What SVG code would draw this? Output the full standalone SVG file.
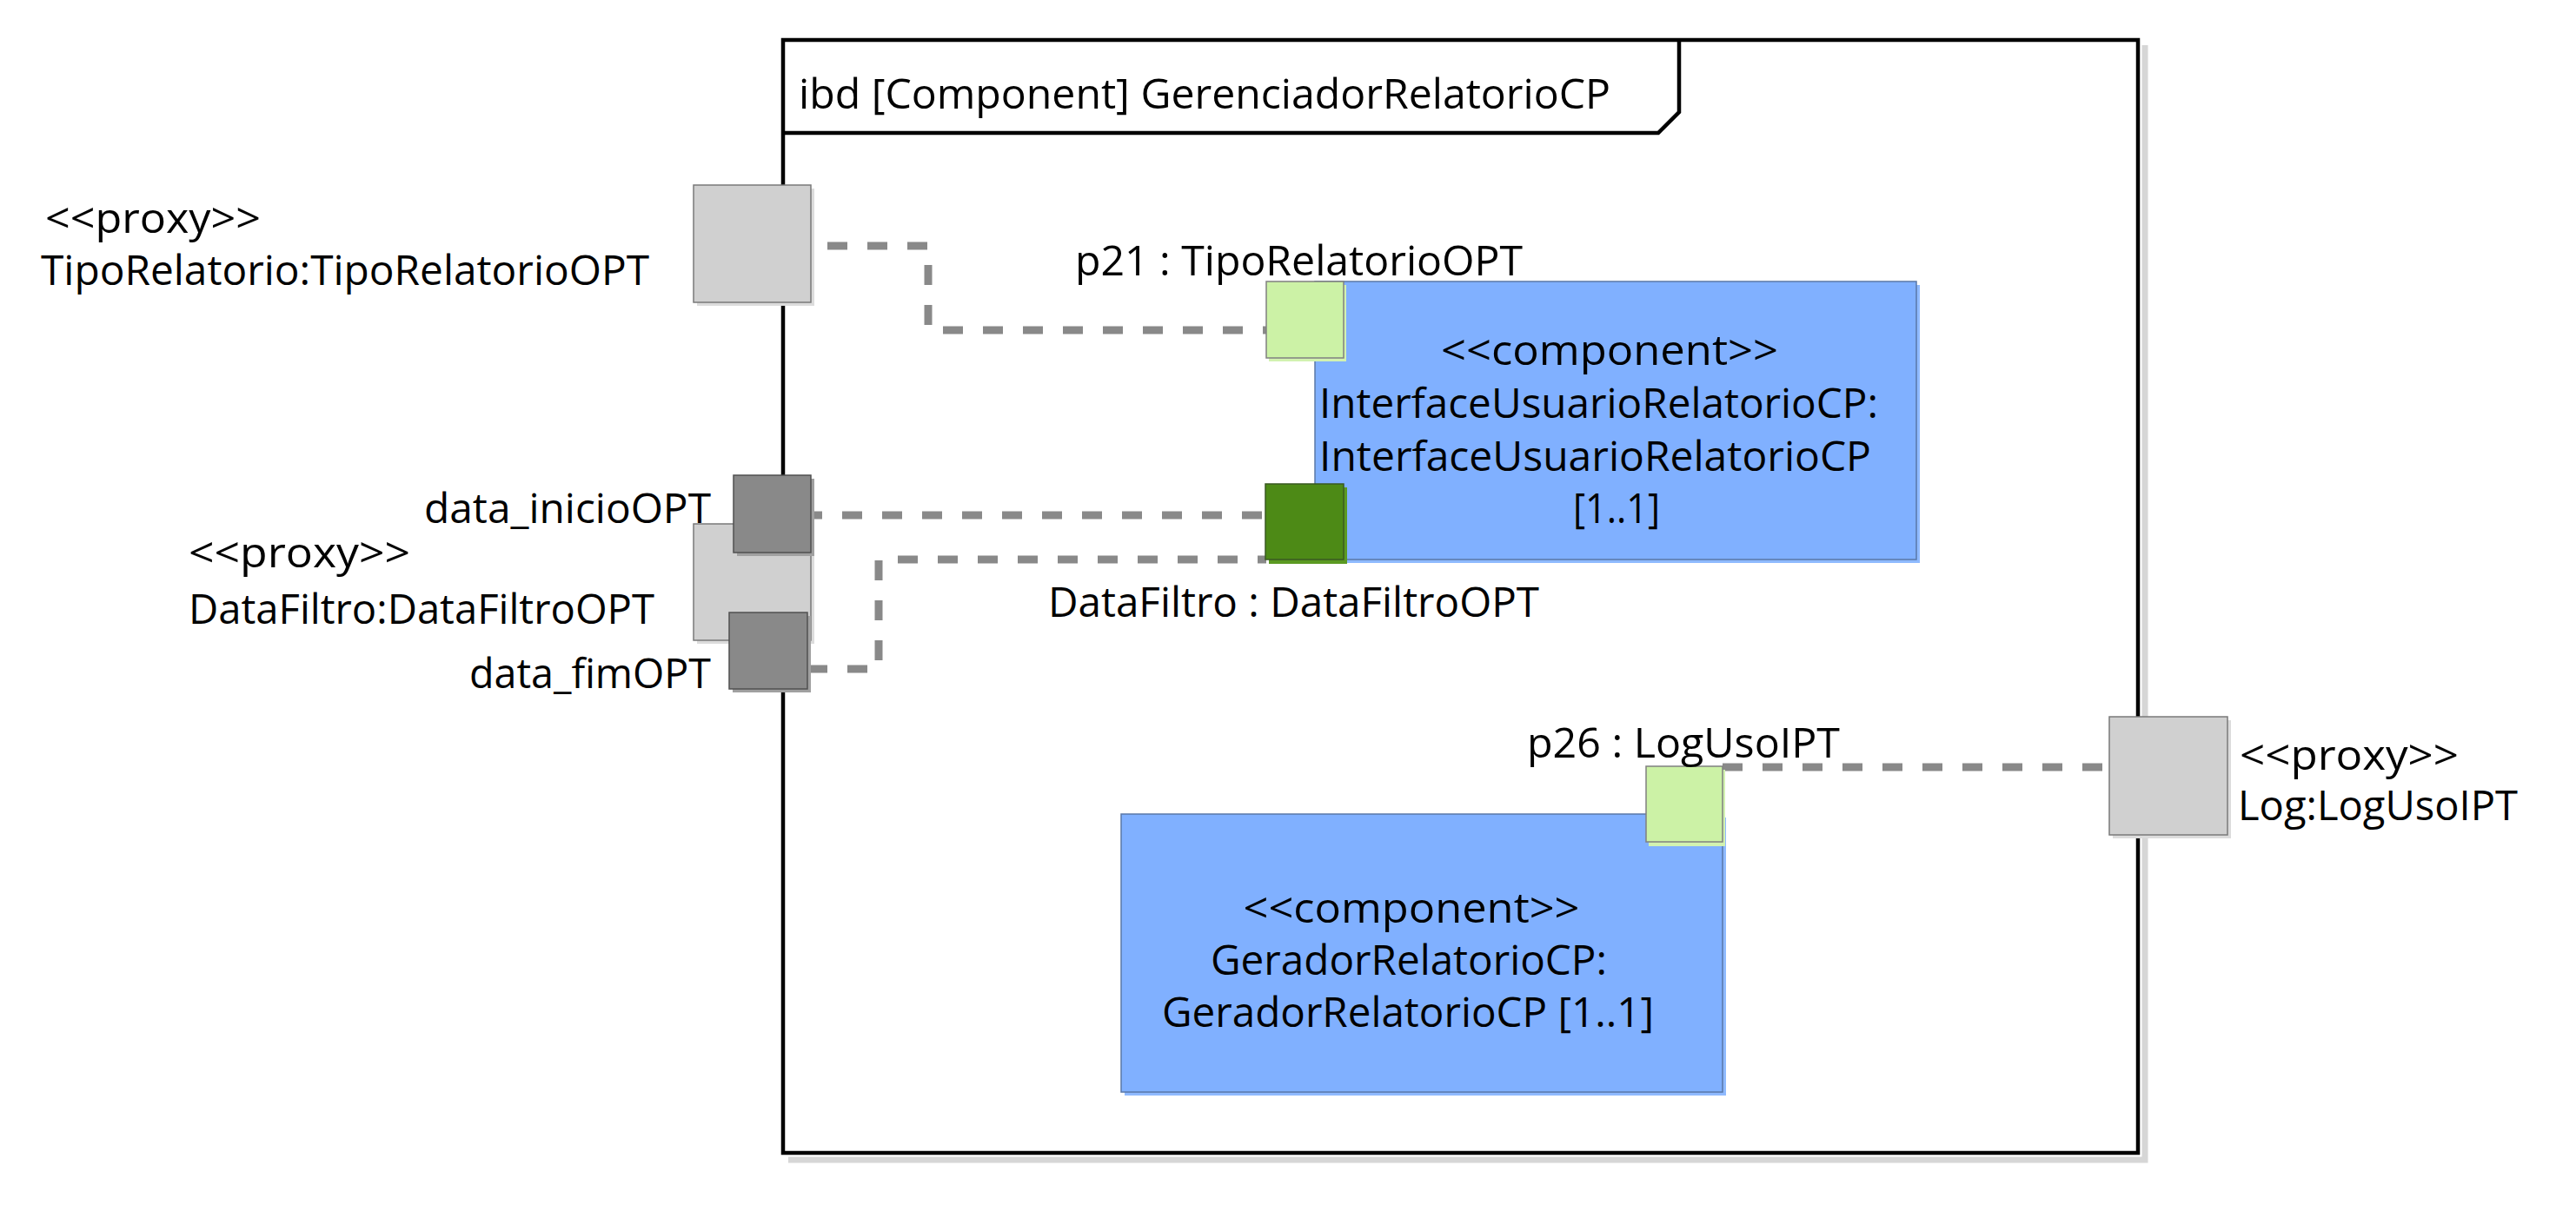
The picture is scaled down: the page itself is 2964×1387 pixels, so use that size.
<svg xmlns="http://www.w3.org/2000/svg" width="2964" height="1387" viewBox="0 0 2964 1387">
<style>
text{font-family:"Open Sans","Liberation Sans",sans-serif;font-size:48px;fill:#000}
.frame{fill:none;stroke:#000;stroke-width:4.5}
.fshadow{fill:none;stroke:#d6d6d6;stroke-width:7}
.proxy{fill:#d0d0d0;stroke:#7a7a7a;stroke-width:1.5}
.proxysh{fill:#dcdcdc}
.dark{fill:#898989;stroke:#505050;stroke-width:1.5}
.darksh{fill:#a0a0a0}
.lg{fill:#ccf2a6;stroke:#808080;stroke-width:1.5}
.lgsh{fill:#d2f2b0}
.dg{fill:#4d8a16;stroke:#3a5a22;stroke-width:1.5}
.dgsh{fill:#5b9a22}
.comp{fill:#80b0ff;stroke:#5a78a8;stroke-width:1.5}
.compsh{fill:#8fbaff}
.conn{fill:none;stroke:#898989;stroke-width:9;stroke-dasharray:23 23}
</style>

<g id="frame">
<path class="fshadow" d="M2468 52 V1335 H907"/>
<rect class="frame" x="901" y="46" width="1559" height="1281"/>
<path class="frame" d="M901 153 H1908 L1932 129 V46"/>
<text x="919" y="125" textLength="934" lengthAdjust="spacingAndGlyphs">ibd [Component] GerenciadorRelatorioCP</text>
</g>

<g id="connectors">
<path class="conn" style="stroke-dashoffset:28" d="M934 283 H1068 V380 H1457"/>
<path class="conn" style="stroke-dashoffset:10" d="M933 593 H1457"/>
<path class="conn" d="M929 770 H1011 V644 H1457"/>
<path class="conn" d="M1982 883 H2427"/>
</g>

<g id="InterfaceUsuarioRelatorioCP">
<rect class="compsh" x="1517" y="328" width="692" height="320"/>
<rect class="comp" x="1513" y="324" width="692" height="320"/>
<text x="1852" y="420" text-anchor="middle" textLength="388" lengthAdjust="spacingAndGlyphs">&lt;&lt;component&gt;&gt;</text>
<text x="1518" y="481" textLength="643" lengthAdjust="spacingAndGlyphs">InterfaceUsuarioRelatorioCP:</text>
<text x="1518" y="542" textLength="635" lengthAdjust="spacingAndGlyphs">InterfaceUsuarioRelatorioCP</text>
<text x="1860" y="602" text-anchor="middle" textLength="100" lengthAdjust="spacingAndGlyphs">[1..1]</text>
</g>

<g id="GeradorRelatorioCP">
<rect class="compsh" x="1294" y="941" width="692" height="320"/>
<rect class="comp" x="1290" y="937" width="692" height="320"/>
<text x="1624" y="1062" text-anchor="middle" textLength="387" lengthAdjust="spacingAndGlyphs">&lt;&lt;component&gt;&gt;</text>
<text x="1621" y="1122" text-anchor="middle" textLength="456" lengthAdjust="spacingAndGlyphs">GeradorRelatorioCP:</text>
<text x="1620" y="1182" text-anchor="middle" textLength="566" lengthAdjust="spacingAndGlyphs">GeradorRelatorioCP [1..1]</text>
</g>

<g id="port-p21">
<rect class="lgsh" x="1460" y="328" width="89" height="88"/>
<rect class="lg" x="1457" y="324" width="89" height="88"/>
<text x="1237" y="317" textLength="515" lengthAdjust="spacingAndGlyphs">p21 : TipoRelatorioOPT</text>
</g>

<g id="port-DataFiltro">
<rect class="dgsh" x="1460" y="561" width="90" height="88"/>
<rect class="dg" x="1456" y="557" width="90" height="87"/>
<text x="1206" y="710" textLength="565" lengthAdjust="spacingAndGlyphs">DataFiltro : DataFiltroOPT</text>
</g>

<g id="port-p26">
<rect class="lgsh" x="1897" y="886" width="88" height="88"/>
<rect class="lg" x="1894" y="882" width="88" height="87"/>
<text x="1757" y="872" textLength="360" lengthAdjust="spacingAndGlyphs">p26 : LogUsoIPT</text>
</g>

<g id="proxy-TipoRelatorio">
<rect class="proxysh" x="802" y="217" width="135" height="135"/>
<rect class="proxy" x="798" y="213" width="135" height="135"/>
<text x="52" y="268" textLength="248" lengthAdjust="spacingAndGlyphs">&lt;&lt;proxy&gt;&gt;</text>
<text x="47" y="328" textLength="700" lengthAdjust="spacingAndGlyphs">TipoRelatorio:TipoRelatorioOPT</text>
</g>

<g id="proxy-DataFiltro">
<rect class="proxysh" x="802" y="607" width="135" height="134"/>
<rect class="proxy" x="798" y="603" width="135" height="134"/>
<text x="217" y="653" textLength="255" lengthAdjust="spacingAndGlyphs">&lt;&lt;proxy&gt;&gt;</text>
<text x="217" y="718" textLength="536" lengthAdjust="spacingAndGlyphs">DataFiltro:DataFiltroOPT</text>
</g>

<g id="port-data_inicioOPT">
<rect class="darksh" x="848" y="551" width="89" height="89"/>
<rect class="dark" x="844" y="547" width="89" height="89"/>
<text x="488" y="602" textLength="330" lengthAdjust="spacingAndGlyphs">data_inicioOPT</text>
</g>

<g id="port-data_fimOPT">
<rect class="darksh" x="843" y="709" width="90" height="88"/>
<rect class="dark" x="839" y="705" width="90" height="88"/>
<text x="540" y="792" textLength="278" lengthAdjust="spacingAndGlyphs">data_fimOPT</text>
</g>

<g id="proxy-Log">
<rect class="proxysh" x="2431" y="829" width="136" height="136"/>
<rect class="proxy" x="2427" y="825" width="136" height="136"/>
<text x="2577" y="886" textLength="252" lengthAdjust="spacingAndGlyphs">&lt;&lt;proxy&gt;&gt;</text>
<text x="2575" y="944" textLength="322" lengthAdjust="spacingAndGlyphs">Log:LogUsoIPT</text>
</g>
</svg>
